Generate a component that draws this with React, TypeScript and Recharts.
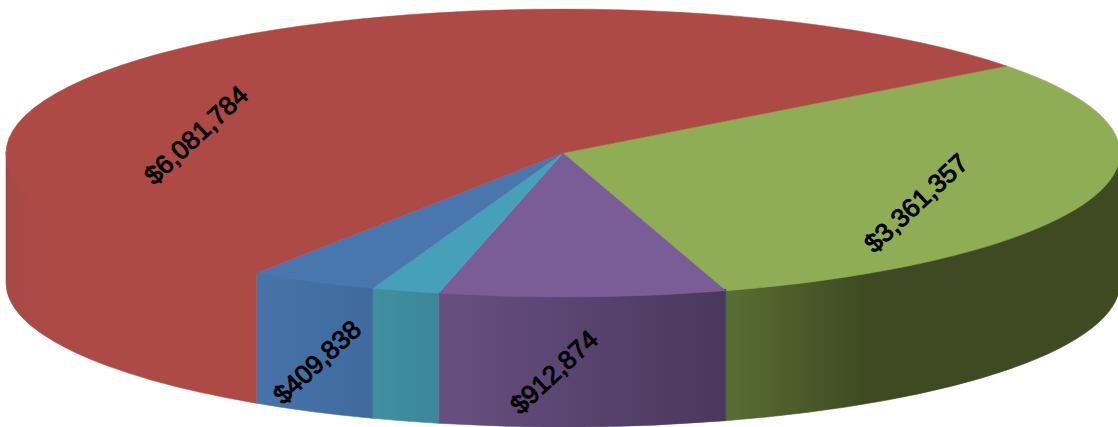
import { PieChart, Pie } from 'recharts'

const names = ['Green', 'Purple', 'Teal', 'Blue', 'Red']
const values = [3361357, 912874, 215000, 409838, 6081784]
const labels = ['$3,361,357', '$912,874', '', '$409,838', '$6,081,784']
const topColors = ['#8FAD55', '#7A5D96', '#47A0B9', '#4A76AE', '#AE4A46']
const wallStops: [number, string][][] = [
  [[0, '#5A6E33'], [0.35, '#3F4A22'], [1, '#3F4A22']],
  [[0, '#684F80'], [1, '#49385E']],
  [[0, '#40909F'], [1, '#3D859B']],
  [[0, '#4873A8'], [1, '#3F6A9E']],
  [[0, '#A54947'], [0.2, '#AE4A46'], [1, '#AE4A46']],
]
// label centre relative to pie centre, hand placed like in the source chart
const labelOffsets = [
  { dx: 353, dy: 50 },
  { dx: -9, dy: 219 },
  { dx: 0, dy: 0 },
  { dx: -246, dy: 209 },
  { dx: -367, dy: -18 },
]

const chartData = names.map((name, i) => ({ name, value: values[i] }))

const SQUASH = 144 / 557
const DEPTH = 130

function Slice3D(props: any) {
  const { cx, cy, outerRadius, startAngle, endAngle, index } = props
  const rx = outerRadius
  const ry = outerRadius * SQUASH
  const pt = (deg: number) => {
    const a = (deg * Math.PI) / 180
    return [cx + rx * Math.cos(a), cy - ry * Math.sin(a)]
  }
  const [x0, y0] = pt(startAngle)
  const [x1, y1] = pt(endAngle)
  const large = Math.abs(startAngle - endAngle) > 180 ? 1 : 0
  const top = `M${cx},${cy} L${x0},${y0} A${rx},${ry} 0 ${large} 1 ${x1},${y1} Z`

  // outer wall only shows on the front half of the ellipse
  // upper rim is pulled up a bit so no white bleeds through under the top face
  const w0 = Math.min(startAngle, 0)
  const w1 = Math.max(endAngle, -180)
  const [wx0, wy0] = pt(w0)
  const [wx1, wy1] = pt(w1)
  const wall = `M${wx0},${wy0 - 1.5} A${rx},${ry} 0 0 1 ${wx1},${wy1 - 1.5} L${wx1},${wy1 + DEPTH} A${rx},${ry} 0 0 0 ${wx0},${wy0 + DEPTH} Z`
  const gradId = `wall-${index}`
  const color = topColors[index]

  return (
    <g>
      <defs>
        <linearGradient id={gradId} x1="0" y1="0" x2="1" y2="0">
          {wallStops[index].map(([offset, stopColor]) => (
            <stop key={offset} offset={offset} stopColor={stopColor} />
          ))}
        </linearGradient>
      </defs>
      {w0 > w1 && <path d={wall} fill={`url(#${gradId})`} stroke={`url(#${gradId})`} strokeWidth={0.6} />}
      <path d={top} fill={color} stroke={color} strokeWidth={0.5} />
    </g>
  )
}

function SliceLabel(props: any) {
  const { cx, cy, index } = props
  if (!labels[index]) return <g />
  const x = cx + labelOffsets[index].dx
  const y = cy + labelOffsets[index].dy
  return (
    <text
      x={x}
      y={y}
      textAnchor="middle"
      dominantBaseline="central"
      transform={`rotate(-43 ${x} ${y})`}
      fontFamily="Liberation Sans, Arial, sans-serif"
      fontSize={26}
      fill="#000"
      stroke="#000"
      strokeWidth={1}
    >
      {labels[index]}
    </text>
  )
}

export default function App() {
  return (
    <div style={{ position: 'absolute', left: 0, top: 0, width: 1118, height: 427, background: '#fff' }}>
      <PieChart width={1118} height={427} margin={{ top: 0, right: 0, bottom: 0, left: 0 }}>
        <Pie
          data={chartData}
          dataKey="value"
          nameKey="name"
          cx={563}
          cy={153}
          innerRadius={0}
          outerRadius={557}
          startAngle={37.2}
          endAngle={-322.8}
          stroke="none"
          shape={Slice3D}
          label={SliceLabel}
          labelLine={false}
          isAnimationActive={false}
        />
      </PieChart>
    </div>
  )
}
